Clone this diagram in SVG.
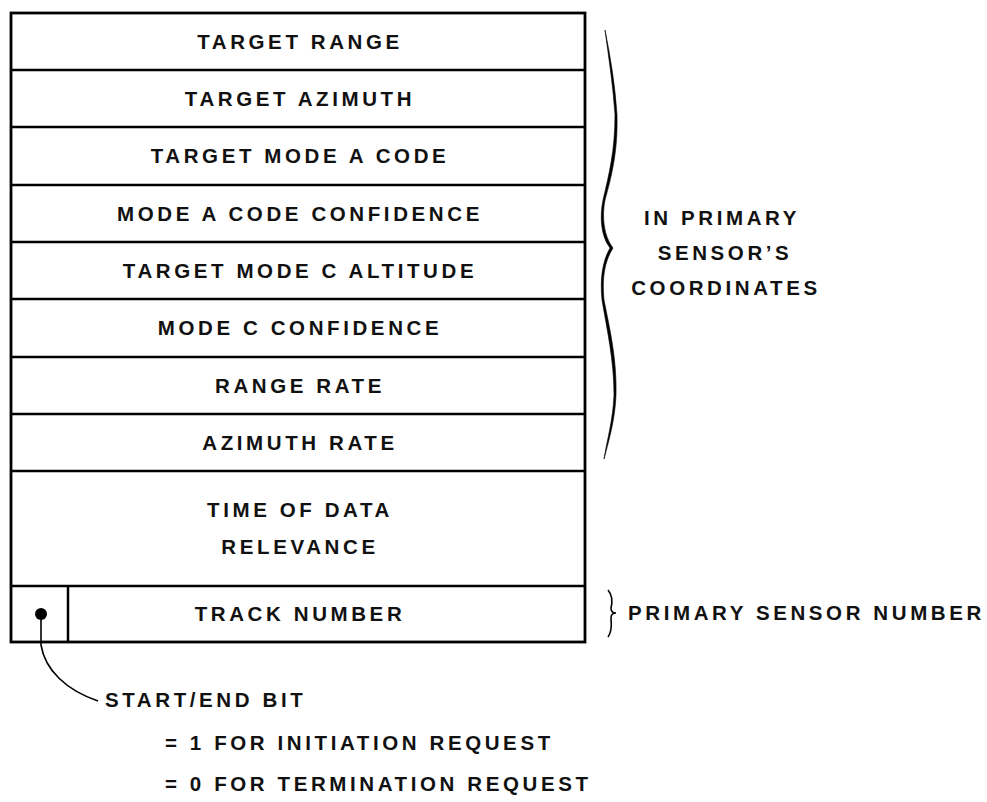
<svg xmlns="http://www.w3.org/2000/svg" width="987" height="802" viewBox="0 0 987 802">
  <style>
    .frame { fill: none; stroke: #000; stroke-width: 2.8; }
    .rule { stroke: #000; stroke-width: 2.5; }
    .lbl { font-family: "Liberation Sans", Arial, sans-serif; font-weight: bold; font-size: 20.5px; letter-spacing: 3.6px; fill: #111; }
    .mid { text-anchor: middle; }
    .lead { fill: none; stroke: #000; stroke-width: 1.6; }
    .brace { fill: #000; stroke: #000; stroke-width: 0.6; }
  </style>
  <rect width="987" height="802" fill="#fff"/>

  <!-- message layout table -->
  <g id="table">
    <rect class="frame" x="11" y="13" width="574" height="629"/>
    <line class="rule" x1="11" y1="70" x2="585" y2="70"/>
    <line class="rule" x1="11" y1="127" x2="585" y2="127"/>
    <line class="rule" x1="11" y1="185" x2="585" y2="185"/>
    <line class="rule" x1="11" y1="242" x2="585" y2="242"/>
    <line class="rule" x1="11" y1="299" x2="585" y2="299"/>
    <line class="rule" x1="11" y1="357" x2="585" y2="357"/>
    <line class="rule" x1="11" y1="414" x2="585" y2="414"/>
    <line class="rule" x1="11" y1="471" x2="585" y2="471"/>
    <line class="rule" x1="11" y1="586" x2="585" y2="586"/>
    <line class="rule" x1="68" y1="586" x2="68" y2="642"/>
  </g>

  <g id="row-target-range"><text class="lbl mid" x="300" y="49">TARGET RANGE</text></g>
  <g id="row-target-azimuth"><text class="lbl mid" x="300" y="106">TARGET AZIMUTH</text></g>
  <g id="row-mode-a-code"><text class="lbl mid" x="300" y="163">TARGET MODE A CODE</text></g>
  <g id="row-mode-a-confidence"><text class="lbl mid" x="300" y="221">MODE A CODE CONFIDENCE</text></g>
  <g id="row-mode-c-altitude"><text class="lbl mid" x="300" y="278">TARGET MODE C ALTITUDE</text></g>
  <g id="row-mode-c-confidence"><text class="lbl mid" x="300" y="335">MODE C CONFIDENCE</text></g>
  <g id="row-range-rate"><text class="lbl mid" x="300" y="393">RANGE RATE</text></g>
  <g id="row-azimuth-rate"><text class="lbl mid" x="300" y="450">AZIMUTH RATE</text></g>
  <g id="row-time">
    <text class="lbl mid" x="300" y="517">TIME OF DATA</text>
    <text class="lbl mid" x="300" y="554">RELEVANCE</text>
  </g>
  <g id="row-track">
    <circle cx="41" cy="614" r="6" fill="#000"/>
    <text class="lbl mid" x="300" y="621">TRACK NUMBER</text>
  </g>

  <!-- braces and side notes -->
  <g id="note-coordinates">
    <path class="brace" d="M605,30 C611,60 615,85 617,115 C618,150 612,175 605,200 C602,215 603,235 613,248 C604,262 602,280 604,300 C610,330 617,360 616,395 C615,420 609,440 604,459 C607,440 613,420 614,395 C614,360 607,330 602,300 C600,280 602,262 610,248 C600,235 600,215 603,200 C609,175 615,150 615,115 C613,85 609,60 605,30 Z"/>
    <text class="lbl mid" x="722" y="225">IN PRIMARY</text>
    <text class="lbl mid" x="725" y="260">SENSOR’S</text>
    <text class="lbl mid" x="726" y="295">COORDINATES</text>
  </g>
  <g id="note-sensor-number">
    <path class="lead" d="M608,590 C613,596 612,604 611,608 C611,611 613,613 616,613 C613,613 611,615 611,618 C611,623 613,630 608,637"/>
    <text class="lbl" x="628" y="620">PRIMARY SENSOR NUMBER</text>
  </g>

  <!-- start/end bit leader and legend -->
  <g id="connectors">
    <path class="lead" d="M41,618 L41,645 C45,670 66,690 98,701"/>
  </g>
  <g id="note-start-end">
    <text class="lbl" x="105" y="707">START/END BIT</text>
    <text class="lbl" x="165" y="750">= 1 FOR INITIATION REQUEST</text>
    <text class="lbl" x="165" y="791">= 0 FOR TERMINATION REQUEST</text>
  </g>
</svg>
